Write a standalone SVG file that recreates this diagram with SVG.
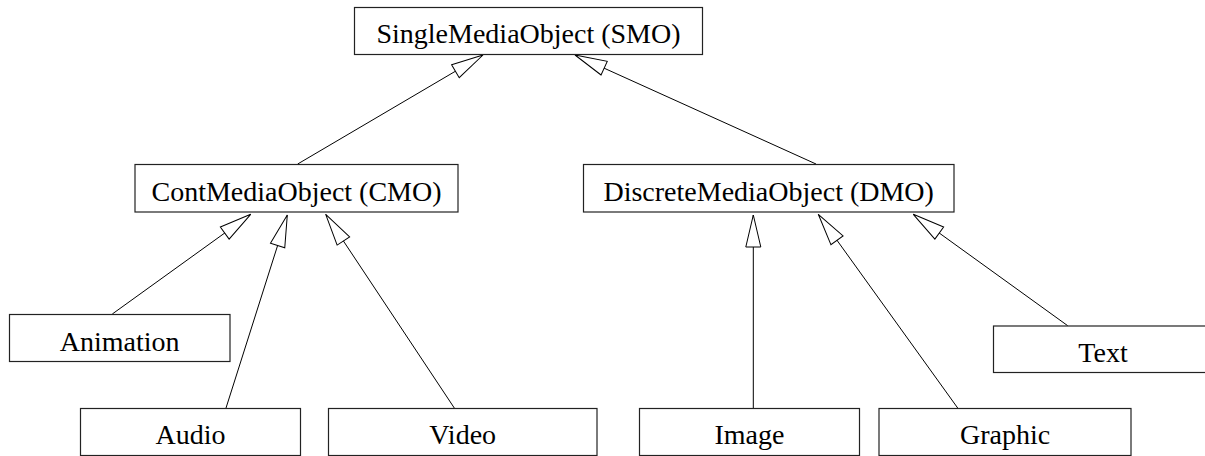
<svg xmlns="http://www.w3.org/2000/svg" width="1205" height="456" viewBox="0 0 1205 456">
<style>
.box{fill:#fff;stroke:#222;stroke-width:1.2}
.lbl{font-family:"Liberation Serif","Times New Roman",serif;font-size:28px;fill:#000;text-anchor:middle}
.conn{stroke:#000;stroke-width:1;fill:none;marker-end:url(#tri)}
</style>
<defs>
<marker id="tri" markerUnits="userSpaceOnUse" markerWidth="34" markerHeight="17" refX="32" refY="7.5" orient="auto" overflow="visible">
<path d="M0,0 L32,7.5 L0,15 Z" fill="#fff" stroke="#000" stroke-width="1"/>
</marker>
</defs>
<rect width="1205" height="456" fill="#fff"/>
<g id="connectors">
<line class="conn" x1="297.7" y1="164" x2="483" y2="55"/>
<line class="conn" x1="816" y1="164" x2="575" y2="55"/>
<line class="conn" x1="112.3" y1="314" x2="250.7" y2="214.3"/>
<line class="conn" x1="226" y1="408" x2="287.3" y2="215"/>
<line class="conn" x1="454.3" y1="408" x2="325.7" y2="214.3"/>
<line class="conn" x1="753.3" y1="408" x2="753.3" y2="215"/>
<line class="conn" x1="957.7" y1="408" x2="818.3" y2="214.3"/>
<line class="conn" x1="1067.7" y1="325.7" x2="913.3" y2="214.3"/>
</g>
<g id="smo"><rect class="box" x="354.5" y="7.5" width="348" height="47"/><text class="lbl" x="528.5" y="43">SingleMediaObject (SMO)</text></g>
<g id="cmo"><rect class="box" x="135" y="164.5" width="323" height="47.5"/><text class="lbl" x="296.5" y="200.5">ContMediaObject (CMO)</text></g>
<g id="dmo"><rect class="box" x="583.5" y="164.5" width="370.5" height="47.5"/><text class="lbl" x="768.7" y="200.5">DiscreteMediaObject (DMO)</text></g>
<g id="animation"><rect class="box" x="9.5" y="314.5" width="220.5" height="47"/><text class="lbl" x="119.7" y="350.5">Animation</text></g>
<g id="audio"><rect class="box" x="80.5" y="408.5" width="220" height="47"/><text class="lbl" x="190.5" y="444">Audio</text></g>
<g id="video"><rect class="box" x="328.5" y="408.5" width="268.5" height="47"/><text class="lbl" x="462.7" y="444">Video</text></g>
<g id="image"><rect class="box" x="639.5" y="408.5" width="220" height="47"/><text class="lbl" x="749.5" y="444">Image</text></g>
<g id="graphic"><rect class="box" x="879" y="408.5" width="252" height="47"/><text class="lbl" x="1005" y="444">Graphic</text></g>
<g id="text"><rect class="box" x="993.5" y="326" width="220" height="46.5"/><text class="lbl" x="1103" y="361.5">Text</text></g>
</svg>
